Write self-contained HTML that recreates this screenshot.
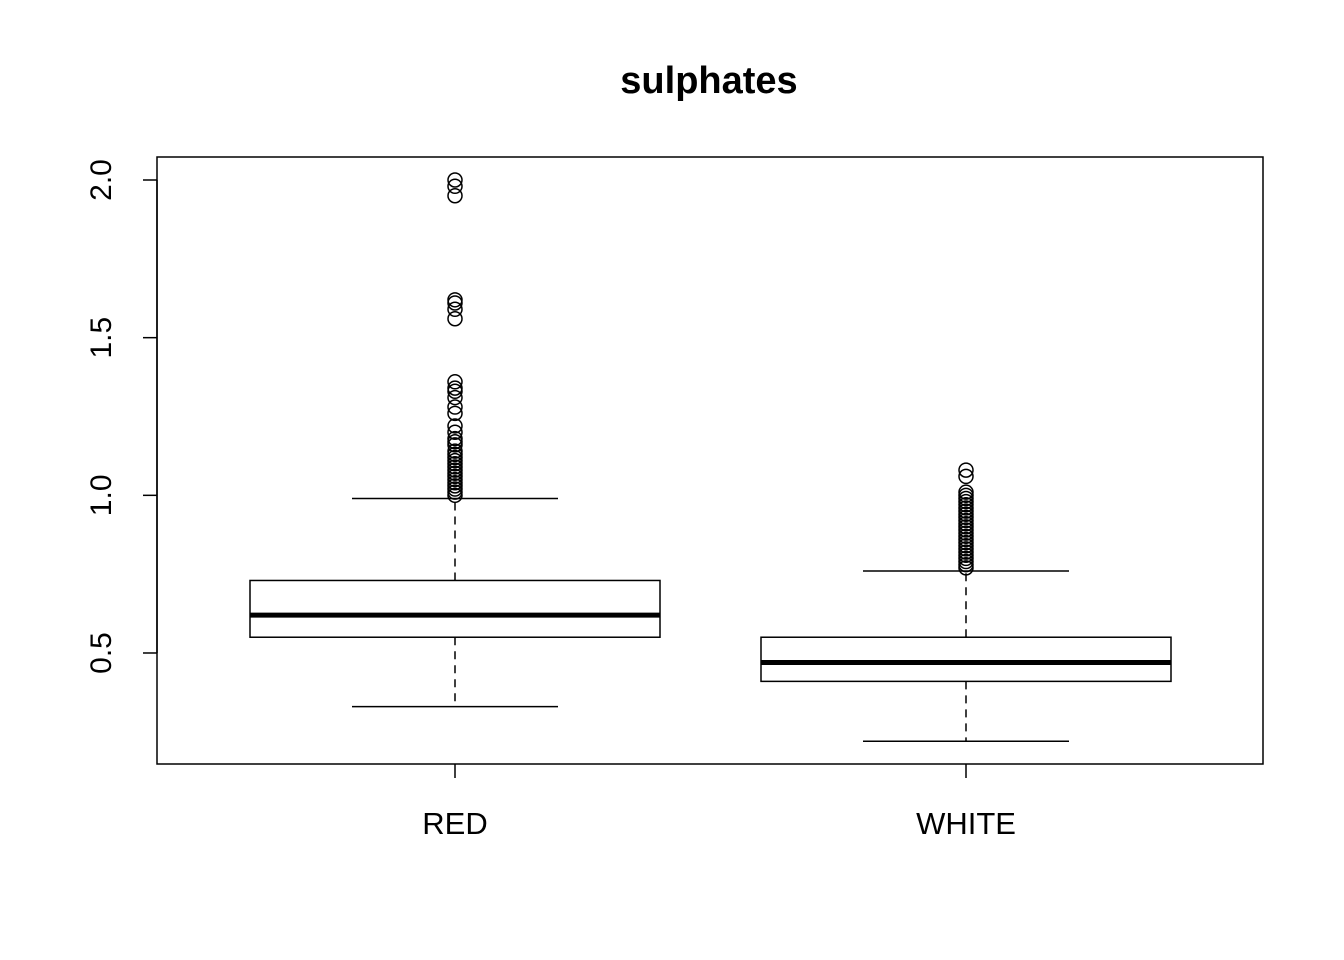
<!DOCTYPE html>
<html><head><meta charset="utf-8"><style>body{margin:0;background:#fff}svg{display:block}</style></head>
<body>
<svg id="chart" width="1344" height="960" xmlns="http://www.w3.org/2000/svg" font-family="Liberation Sans, Arial, sans-serif">
<text x="709" y="93" text-anchor="middle" font-size="38" font-weight="bold">sulphates</text>
<rect x="157" y="157" width="1106" height="607" fill="none" stroke="#000" stroke-width="1.5"/>
<g id="axes"></g>
<g id="boxes"></g>
</svg>
<script>
const categories = ["RED", "WHITE"];
const lowerWhisker = [0.33, 0.22];
const q1 = [0.55, 0.41];
const medians = [0.62, 0.47];
const q3 = [0.73, 0.55];
const upperWhisker = [0.99, 0.76];
const outliersRed = [2.0,1.98,1.95,1.62,1.61,1.59,1.56,1.36,1.34,1.33,1.31,1.28,1.26,1.22,1.20,1.18,1.17,1.16,1.14,1.13,1.12,1.11,1.10,1.09,1.08,1.07,1.06,1.05,1.04,1.03,1.02,1.01,1.00];
const outliersWhite = [1.08,1.06,1.01,1.0,0.99,0.98,0.97,0.96,0.95,0.94,0.93,0.92,0.91,0.90,0.89,0.88,0.87,0.86,0.85,0.84,0.83,0.82,0.81,0.80,0.79,0.78,0.77];
const yTicks = [0.5, 1.0, 1.5, 2.0];
const yTickLabels = ["0.5", "1.0", "1.5", "2.0"];

const NS = "http://www.w3.org/2000/svg";
function y(v){ return 180 + (2 - v) * 315.33; }
function x(i){ return 455 + i * 511; }
function mk(tag, attrs, parent){ const e=document.createElementNS(NS,tag); for(const k in attrs) e.setAttribute(k,attrs[k]); parent.appendChild(e); return e; }
const axes=document.getElementById('axes'), boxes=document.getElementById('boxes');
mk('line',{x1:157,x2:157,y1:y(yTicks[0]),y2:y(yTicks[yTicks.length-1]),stroke:'#000','stroke-width':1.5},axes);
yTicks.forEach((t,i)=>{
  const l=mk('line',{x1:143,x2:157,y1:y(t),y2:y(t),stroke:'#000','stroke-width':1.5},axes);
  
  
  const tx=mk('text',{x:111,y:y(t),'font-size':30,'text-anchor':'middle',transform:`rotate(-90 111 ${y(t)})`},axes);
  tx.textContent=yTickLabels[i];
  
  
});
const outs=[outliersRed, outliersWhite];
categories.forEach((c,i)=>{
  const cx=x(i);
  const g=mk('g',{},boxes);
  
  
  mk('line',{x1:cx,x2:cx,y1:764,y2:778,stroke:'#000','stroke-width':1.5},axes);
  const lab=mk('text',{x:cx,y:834,'font-size':31,'text-anchor':'middle'},axes);
  lab.textContent=c;
  
  
  mk('line',{x1:cx,x2:cx,y1:y(q3[i]),y2:y(upperWhisker[i]),stroke:'#000','stroke-width':1.5,'stroke-dasharray':'8 6'},g);
  mk('line',{x1:cx,x2:cx,y1:y(q1[i]),y2:y(lowerWhisker[i]),stroke:'#000','stroke-width':1.5,'stroke-dasharray':'8 6'},g);
  mk('line',{x1:cx-103,x2:cx+103,y1:y(upperWhisker[i]),y2:y(upperWhisker[i]),stroke:'#000','stroke-width':1.5},g);
  mk('line',{x1:cx-103,x2:cx+103,y1:y(lowerWhisker[i]),y2:y(lowerWhisker[i]),stroke:'#000','stroke-width':1.5},g);
  mk('rect',{x:cx-205,y:y(q3[i]),width:410,height:y(q1[i])-y(q3[i]),fill:'#fff',stroke:'#000','stroke-width':1.5},g);
  mk('line',{x1:cx-205,x2:cx+205,y1:y(medians[i]),y2:y(medians[i]),stroke:'#000','stroke-width':5},g);
  outs[i].forEach(v=>{
    const o=mk('circle',{cx:cx,cy:y(v),r:7,fill:'none',stroke:'#000','stroke-width':1.5},g);
    
    
  });
});
</script>
</body></html>
